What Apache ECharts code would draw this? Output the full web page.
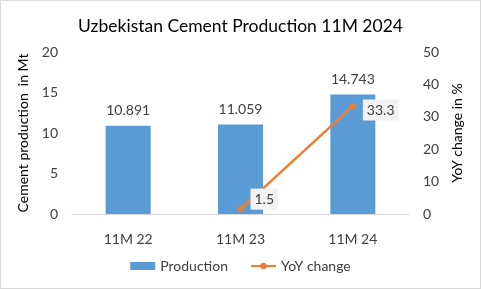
<!DOCTYPE html>
<html><head><meta charset="utf-8">
<script src="https://cdn.jsdelivr.net/npm/echarts@6/dist/echarts.min.js"></script>
<style>html,body{margin:0;padding:0;background:#fff}#c{width:479px;height:287px;border:1px solid #d9d9d9}</style>
</head><body><div id="c"></div>
<script>
const categories = ['11M 22', '11M 23', '11M 24'];
const production = [10.891, 11.059, 14.743];
const yoyChange = [null, 1.5, 33.3];
const leftTicks = [0, 20, 5];
const rightTicks = [0, 50, 10];
const font = 'Lato, "Liberation Sans", sans-serif';
const chart = echarts.init(document.getElementById('c'));
const yoyLabelOffsets = [[0, 0], [0, -10], [0, 4]];
chart.setOption({
  animation: false,
  textStyle: { fontFamily: font },
  title: { text: 'Uzbekistan Cement Production 11M 2024', left: 'center', top: 11,
    textStyle: { fontFamily: font, fontSize: 17.5, fontWeight: 'normal', color: '#000' } },
  legend: { bottom: 10, left: 'center', itemGap: 22, itemWidth: 25, itemHeight: 8,
    textStyle: { fontFamily: font, fontSize: 14, color: '#404040' },
    data: [{ name: 'Production', icon: 'rect' }, { name: 'YoY change' }] },
  grid: { left: 71, right: 71, top: 51, bottom: 74 },
  xAxis: { type: 'category', data: categories,
    axisLine: { lineStyle: { color: '#d9d9d9' } }, axisTick: { show: false },
    axisLabel: { fontSize: 14, color: '#404040', margin: 18 } },
  yAxis: [
    { type: 'value', min: leftTicks[0], max: leftTicks[1], interval: leftTicks[2],
      name: 'Cement production  in Mt', nameLocation: 'middle', nameGap: 34,
      nameTextStyle: { fontSize: 14, color: '#000' },
      splitLine: { show: false }, axisLine: { show: false },
      axisLabel: { fontSize: 14, color: '#404040', margin: 14 } },
    { type: 'value', min: rightTicks[0], max: rightTicks[1], interval: rightTicks[2],
      name: 'YoY change in %', nameLocation: 'middle', nameGap: 38, nameRotate: 90,
      nameTextStyle: { fontSize: 14, color: '#000' },
      splitLine: { show: false }, axisLine: { show: false },
      axisLabel: { fontSize: 14, color: '#404040', margin: 14 } }
  ],
  series: [
    { name: 'Production', type: 'bar', data: production, barWidth: 45,
      itemStyle: { color: '#5B9BD5' },
      label: { show: true, position: 'top', distance: 8, fontSize: 14, color: '#404040',
        formatter: p => p.value.toFixed(3) } },
    { name: 'YoY change', type: 'line', yAxisIndex: 1,
      data: yoyChange.map((v, i) => ({ value: v, label: { offset: yoyLabelOffsets[i] } })),
      connectNulls: false, symbol: 'circle', symbolSize: 6,
      itemStyle: { color: '#ED7D31' }, lineStyle: { color: '#ED7D31', width: 2.5 },
      label: { show: true, position: 'right', distance: 7, fontSize: 14, color: '#404040',
        backgroundColor: '#f2f2f2', padding: [4, 4, 3, 4],
        formatter: p => p.value.toFixed(1) } }
  ]
});
</script></body></html>
